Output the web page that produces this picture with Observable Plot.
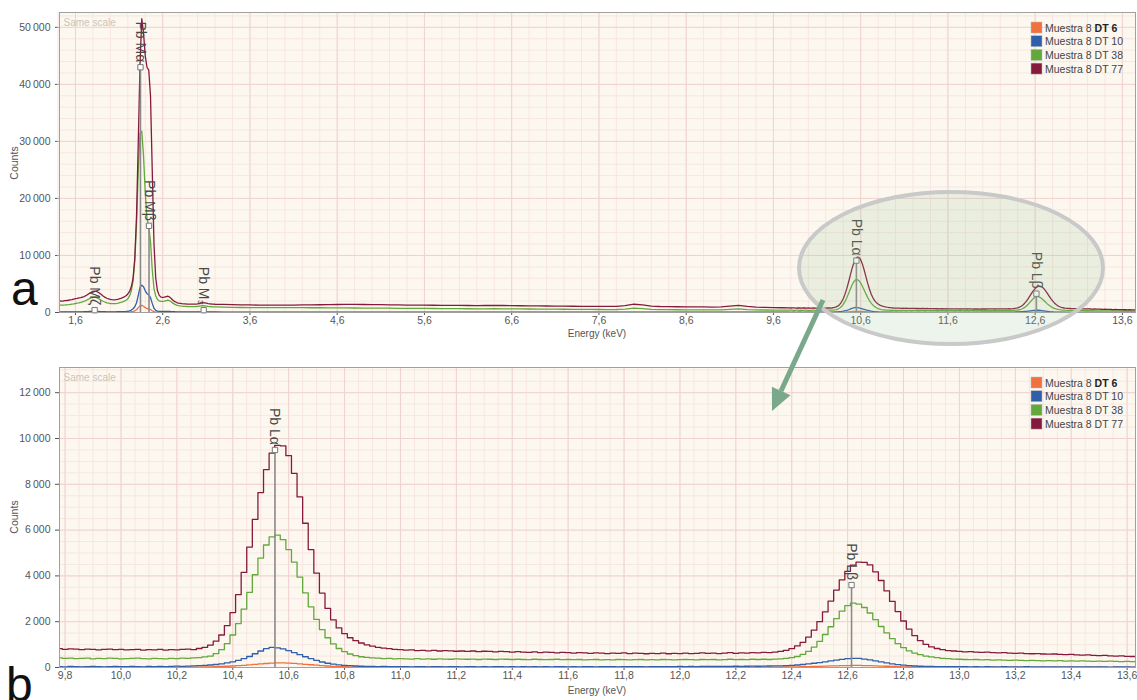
<!DOCTYPE html>
<html>
<head>
<meta charset="utf-8">
<script src="https://cdn.jsdelivr.net/npm/d3@7"></script>
<script src="https://cdn.jsdelivr.net/npm/@observablehq/plot@0.6"></script>
<style>
  body { margin: 0; background: #fff; font-family: "Liberation Sans", Arial, sans-serif; }
  #wrap { position: relative; width: 1137px; height: 700px; overflow: hidden; }
  .panel { position: absolute; left: 0; }
  #overlay { position: absolute; left: 0; top: 0; pointer-events: none; }
</style>
</head>
<body>
<div id="wrap">
  <div class="panel" id="top" style="top:0"></div>
  <div class="panel" id="bottom" style="top:355px"></div>
  <svg id="overlay" width="1137" height="700"></svg>
</div>
<script>
// ---------------- DATA ----------------
const seriesNames = ["Muestra 8 DT 6", "Muestra 8 DT 10", "Muestra 8 DT 38", "Muestra 8 DT 77"];
const seriesColors = ["#f07040", "#2f5fa8", "#62a83a", "#861a3c"];

// Segment energy grids (bin centres, keV)
const lowStart = 1.42, lowStep = 0.02;   // 1.42 – 3.20
const midStart = 3.3, midStep = 0.1;     // 3.3 – 9.7
const highStart = 9.78, highStep = 0.02; // 9.78 – 13.74

// DT 6 (orange)
const dt6Low = [
  40,35,40,45,40,45,50,45,50,50,
  55,55,60,60,65,70,75,80,85,90,
  90,85,80,75,70,65,60,55,55,50,
  50,50,55,55,60,60,65,70,75,85,
  100,130,180,280,480,850,1150,1250,1100,850,
  700,650,520,300,150,80,60,50,50,50,
  55,55,60,55,50,45,40,40,35,35,
  35,30,30,30,30,30,30,30,30,30,
  35,35,35,35,30,30,30,30,25,25];
const dt6Mid = [
  25,25,24,24,23,23,22,22,22,21,
  21,21,20,20,20,20,19,19,19,19,
  18,18,18,18,17,17,17,17,16,16,
  16,16,16,15,15,15,15,15,14,14,
  14,14,14,14,14,14,15,18,16,14,
  13,13,13,12,12,12,12,13,14,15,
  13,12,12,11,11];
const dt6High = [
  10,5,10,5,10,10,5,10,5,10, 10,5,10,10,5,10,10,15,10,10, 15,10,15,15,20,
  20,25,30,35,45,55,65,80,95,115, 135,155,175,195,205,205,195,180,160,140,
  120,100,80,65,50,40,32,26,22,18, 15,14,12,12,10,10,10,
  10,5,10,5,10,5,5,10,5,10, 5,10,5,5,10,5,10,5,5,10, 5,5,10,5,10,5,5,10,5,5,
  10,5,5,10,5,10,5,5,10,5, 10,5,5,10,5,10,10,5,10,5, 10,10,5,10,10,5,10,10,15,10,
  15,10,15,15,20,15,
  20,20,25,25,30,35,40,45,52,60, 67,74,80,86,90,90,86,80,72,63,
  54,45,37,30,25,20,17,15,13,12, 10,10,10,10,
  10,5,10,5,10,10,5,10,5,10, 5,10,5,5,10,5,10,5,5,10, 5,5,10,5,10,5,5,10,5,5,
  10,5,5,10,5,10,5];

// DT 10 (blue)
const dt10Low = [
  90,85,90,95,90,95,100,100,105,110,
  110,115,120,125,135,145,160,175,190,200,
  200,195,180,165,150,140,130,125,120,120,
  120,120,125,130,135,145,155,170,190,230,
  300,420,650,1000,1700,3000,4400,4800,4500,3800,
  3300,3100,2600,1600,750,380,250,200,180,180,
  190,200,210,200,170,150,130,120,110,110,
  100,100,100,95,95,90,90,95,95,100,
  105,110,110,105,100,95,90,90,85,85];
const dt10Mid = [
  80,78,76,75,74,72,70,70,68,66,
  65,64,62,62,60,60,58,58,56,56,
  55,55,54,54,52,52,50,50,50,48,
  48,48,46,46,46,45,45,44,44,44,
  43,43,42,42,42,44,48,55,50,43,
  42,41,41,40,40,40,40,42,48,52,
  45,42,40,40,40];
const dt10High = [
  40,30,50,40,30,40,50,40,30,40, 50,40,40,50,40,30,50,40,50,40, 50,60,50,60,70,
  80,90,110,130,160,200,250,310,390,480, 600,720,820,880,860,810,740,650,560,470,
  390,310,240,185,145,115,92,78,65,55, 50,45,40,45,40,35,40,
  40,30,40,35,30,40,35,30,40,35, 30,35,40,30,35,30,40,35,30,35, 30,35,30,40,30,35,30,35,40,30,
  35,30,35,40,30,35,40,35,30,40, 35,40,35,30,40,35,40,35,40,45, 40,45,40,45,50,45,50,45,50,55,
  50,55,60,55,60,65,
  70,75,85,95,110,130,155,185,215,250, 285,320,355,385,400,395,370,335,290,245,
  200,160,125,100,80,65,55,50,45,40, 40,35,40,35,
  35,30,35,30,35,30,30,35,30,25, 30,35,30,25,30,30,25,30,25,30, 25,30,25,25,30,25,20,25,30,25,
  20,25,20,25,20,25,20];

// DT 38 (green)
const dt38Low = [
  1300,1280,1300,1320,1350,1380,1420,1470,1520,1580,
  1640,1700,1780,1870,1980,2100,2250,2420,2560,2650,
  2680,2620,2480,2300,2100,1930,1800,1700,1630,1580,
  1560,1550,1570,1610,1680,1760,1860,1980,2150,2400,
  2900,3800,5500,9000,15500,25000,31500,31800,27500,21000,
  16500,15000,12500,7500,4200,2900,2300,2050,1950,1950,
  2000,2100,2150,2050,1850,1600,1420,1300,1220,1160,
  1120,1090,1070,1050,1040,1030,1030,1040,1050,1070,
  1120,1170,1200,1180,1130,1080,1040,1010,990,980];
const dt38Mid = [
  930,900,880,860,850,840,840,840,840,840,
  830,830,820,810,800,790,780,770,760,750,
  740,730,720,710,700,690,680,670,660,650,
  650,660,650,630,620,610,600,590,580,570,
  560,550,540,530,520,530,600,750,680,540,
  500,490,480,470,460,450,450,460,540,620,
  520,460,440,420,410];
const dt38High = [
  420,400,410,390,400,410,380,400,390,410, 400,380,390,400,410,390,380,400,390,380, 400,390,410,400,420,
  430,460,500,610,780,1040,1420,1920,2550,3280, 4050,4780,5350,5700,5780,5580,5150,4600,3950,3260,
  2650,2100,1650,1300,1030,830,690,590,520,470, 440,420,410,390,400,380,390,
  380,370,390,370,380,360,380,370,360,380, 370,360,370,350,370,360,350,370,360,350,
  360,350,340,360,350,340,350,360,340,350, 340,350,330,340,350,330,340,330,350,340,
  330,340,350,330,340,330,350,340,330,340, 350,340,330,350,340,350,330,340,360,340,
  350,340,360,350,360,350,
  370,380,400,430,480,570,700,890,1140,1440, 1780,2130,2460,2700,2810,2770,2620,2380,2090,1790,
  1510,1260,1040,870,730,630,560,500,460,430, 400,390,370,360,
  350,340,350,330,340,320,330,320,310,320, 310,300,310,300,290,300,290,300,280,290,
  280,290,280,270,280,270,280,270,260,270, 260,270,260,270,260,250,260];

// DT 77 (maroon)
const dt77Low = [
  2050,2000,2020,2080,2100,2150,2200,2250,2350,2420,
  2480,2550,2600,2700,2800,2950,3150,3350,3550,3700,
  3750,3700,3550,3350,3100,2850,2650,2500,2380,2300,
  2250,2230,2250,2300,2380,2480,2600,2750,2950,3250,
  3700,4500,6000,9500,17000,30000,43500,51500,49000,45000,
  43000,42500,38000,25000,12000,6000,3800,3000,2700,2650,
  2700,2800,2850,2700,2400,2100,1900,1750,1650,1600,
  1550,1520,1500,1480,1470,1460,1460,1470,1480,1500,
  1600,1680,1720,1700,1640,1570,1520,1490,1470,1450];
const dt77Mid = [
  1430,1380,1350,1320,1300,1290,1290,1300,1310,1320,
  1340,1360,1380,1400,1410,1410,1400,1390,1370,1350,
  1330,1310,1290,1280,1270,1260,1250,1240,1230,1220,
  1230,1250,1230,1200,1180,1160,1150,1140,1130,1110,
  1100,1090,1080,1070,1060,1080,1200,1450,1350,1120,
  1050,1030,1010,1000,980,970,960,980,1120,1250,
  1080,950,900,870,830];
const dt77High = [
  820,790,810,800,780,800,790,770,790,800, 780,790,770,780,790,760,780,770,790,760, 780,770,790,800,780,
  830,880,980,1150,1420,1830,2400,3180,4150,5260, 6470,7640,8640,9360,9700,9680,9250,8480,7450,6300,
  5150,4120,3250,2580,2080,1730,1480,1300,1170,1070, 990,930,880,850,820,790,780,
  760,770,740,750,730,750,720,740,730,710, 720,700,720,690,710,700,680,700,690,670,
  690,670,660,680,650,670,660,640,660,650, 630,650,640,620,640,630,610,630,620,640,
  610,630,620,600,620,610,630,600,620,610, 630,610,620,640,620,630,610,630,650,620,
  640,630,650,640,660,650,
  670,700,750,820,940,1100,1330,1630,2000,2430, 2900,3380,3830,4200,4470,4600,4590,4480,4180,3800,
  3350,2890,2440,2030,1680,1390,1170,1010,900,830, 780,740,720,700,
  680,690,670,660,670,650,640,650,630,620, 630,610,600,610,590,580,590,570,560,570,
  550,540,550,530,520,530,510,500,510,490, 480,490,470,480,460,470,460];

// Peak identifications
const topPeakNames  = ["Pb Mζ", "Pb Mα", "Pb Mβ", "Pb M₃", "Pb Lα", "Pb Lβ"];
const topPeakEnergy = [1.82, 2.345, 2.443, 3.07, 10.551, 12.614];
const topPeakMark   = [400, 43000, 15200, 400, 9100, 3300];
const botPeakNames  = ["Pb Lα", "Pb Lβ"];
const botPeakEnergy = [10.551, 12.614];
const botPeakMark   = [9500, 3600];

// Tick values
const topXTicks = [1.6, 2.6, 3.6, 4.6, 5.6, 6.6, 7.6, 8.6, 9.6, 10.6, 11.6, 12.6, 13.6];
const topYTicks = [0, 10000, 20000, 30000, 40000, 50000];
const botXTicks = [9.8, 10.0, 10.2, 10.4, 10.6, 10.8, 11.0, 11.2, 11.4, 11.6, 11.8, 12.0, 12.2, 12.4, 12.6, 12.8, 13.0, 13.2, 13.4, 13.6];
const botYTicks = [0, 2000, 4000, 6000, 8000, 10000, 12000];

// ---------------- BUILD ----------------
const segs = [
  [dt6Low, dt6Mid, dt6High],
  [dt10Low, dt10Mid, dt10High],
  [dt38Low, dt38Mid, dt38High],
  [dt77Low, dt77Mid, dt77High]
];
function seg(name, start, step, vals, part) {
  return vals.map((c, i) => ({ s: name, e: +(start + step * i).toFixed(3), c, part }));
}
const allRows = [];
seriesNames.forEach((n, k) => {
  allRows.push(...seg(n, lowStart, lowStep, segs[k][0], "low"));
  allRows.push(...seg(n, midStart, midStep, segs[k][1], "mid"));
  allRows.push(...seg(n, highStart, highStep, segs[k][2], "high"));
});
const highRows = allRows.filter(d => d.part === "high");
const topPeaks = topPeakNames.map((name, i) => ({ name, e: topPeakEnergy[i], m: topPeakMark[i] }));
const botPeaks = botPeakNames.map((name, i) => ({ name, e: botPeakEnergy[i], m: botPeakMark[i] }));

const fmtE = d => d.toFixed(1).replace(".", ",");
const fmtC = d => d3.format(",")(d).replace(/,/g, "\u2009");
const fontFam = "Liberation Sans, Arial, sans-serif";
const bg = "#fdf8ef", gridMajor = "#f1d2d0", gridMinor = "#f7e6e1";

function panel({ xDomain, yDomain, xTicks, yTicks, xMinor, yMinor, rows, curve, peaks, height, marginBottom }) {
  return Plot.plot({
    width: 1137, height,
    marginLeft: 59, marginRight: 2, marginTop: 12, marginBottom,
    style: { fontFamily: fontFam, fontSize: "10.5px", color: "#555", background: "transparent" },
    x: { domain: xDomain, ticks: xTicks, tickFormat: fmtE, tickSize: 3, tickPadding: 1, label: null },
    y: { domain: yDomain, ticks: yTicks, tickFormat: fmtC, tickSize: 4, label: null },
    color: { domain: seriesNames, range: seriesColors },
    marks: [
      Plot.frame({ fill: bg }),
      Plot.ruleX(xMinor, { stroke: gridMinor, strokeWidth: 1 }),
      Plot.ruleY(yMinor, { stroke: gridMinor, strokeWidth: 1 }),
      Plot.ruleX(xTicks, { stroke: gridMajor, strokeWidth: 1 }),
      Plot.ruleY(yTicks, { stroke: gridMajor, strokeWidth: 1 }),
      Plot.text(["Same scale"], { frameAnchor: "top-left", dx: 4, dy: 6, fill: "#c9c4bd", fontSize: 10 }),
      Plot.line(rows, { x: "e", y: "c", z: "s", stroke: "s", strokeWidth: 1.3, curve, clip: true }),
      Plot.ruleX(peaks, { x: "e", y1: 0, y2: "m", stroke: "#8a8a8a", strokeWidth: 1.6 }),
      Plot.dot(peaks, { x: "e", y: "m", symbol: "square", r: 3, fill: "#fff", stroke: "#777", strokeWidth: 1 }),
      Plot.text(peaks, { x: "e", y: "m", text: "name", rotate: 90, textAnchor: "end", dy: -5, fontSize: 14, fill: "#484848" }),
      Plot.frame({ stroke: "#a0a0a0" })
    ]
  });
}

const topPlot = panel({
  xDomain: [1.417, 13.75], yDomain: [0, 52600],
  xTicks: topXTicks, yTicks: topYTicks,
  xMinor: d3.range(1.4, 13.76, 0.2), yMinor: d3.range(0, 52600, 2000),
  rows: allRows, curve: "linear", peaks: topPeaks, height: 340, marginBottom: 28
});
document.getElementById("top").appendChild(topPlot);

const botPlot = panel({
  xDomain: [9.78, 13.63], yDomain: [0, 13100],
  xTicks: botXTicks, yTicks: botYTicks,
  xMinor: d3.range(9.8, 13.64, 0.05), yMinor: d3.range(0, 13100, 500),
  rows: highRows, curve: "step", peaks: botPeaks, height: 345, marginBottom: 33
});
document.getElementById("bottom").appendChild(botPlot);

// ---------------- OVERLAY (titles, legend, annotation) ----------------
const ov = d3.select("#overlay");
// axis titles
[[163, 337], [517, 694]].forEach(([cy, ey]) => {
  ov.append("text").attr("transform", `translate(18,${cy}) rotate(-90)`).attr("text-anchor", "middle")
    .attr("font-family", fontFam).attr("font-size", 10.5).attr("fill", "#555").text("Counts");
  ov.append("text").attr("x", 597).attr("y", ey).attr("text-anchor", "middle")
    .attr("font-family", fontFam).attr("font-size", 10).attr("fill", "#555").text("Energy (keV)");
});
// legends
[22, 377].forEach(y0 => {
  seriesNames.forEach((n, i) => {
    const y = y0 + i * 13.7;
    ov.append("rect").attr("x", 1031).attr("y", y).attr("width", 11).attr("height", 11)
      .attr("fill", seriesColors[i]).attr("stroke", "#bbb").attr("stroke-width", 0.5);
    const t = ov.append("text").attr("x", 1045).attr("y", y + 9.5)
      .attr("font-family", fontFam).attr("font-size", 10.5).attr("fill", "#444");
    const parts = n.split(" DT ");
    t.append("tspan").text(parts[0] + " ");
    t.append("tspan").attr("font-weight", i === 0 ? "bold" : "normal").attr("fill", i === 0 ? "#222" : "#444").text("DT " + parts[1]);
  });
});
// panel letters
ov.append("text").attr("x", 11).attr("y", 305).attr("font-family", fontFam).attr("font-size", 48).attr("fill", "#111").text("a");
ov.append("text").attr("x", 6).attr("y", 701).attr("font-family", fontFam).attr("font-size", 48).attr("fill", "#111").text("b");
// zoom ellipse
ov.append("ellipse").attr("cx", 951).attr("cy", 268).attr("rx", 152).attr("ry", 76)
  .attr("fill", "rgba(150,195,150,0.18)").attr("stroke", "#c9c9c9").attr("stroke-width", 4);
// arrow
ov.append("line").attr("x1", 823).attr("y1", 300).attr("x2", 781).attr("y2", 391)
  .attr("stroke", "#79a98a").attr("stroke-width", 5);
ov.append("polygon").attr("points", "772,411 790.5,395.2 771.9,386.8").attr("fill", "#79a98a");
</script>
</body>
</html>
